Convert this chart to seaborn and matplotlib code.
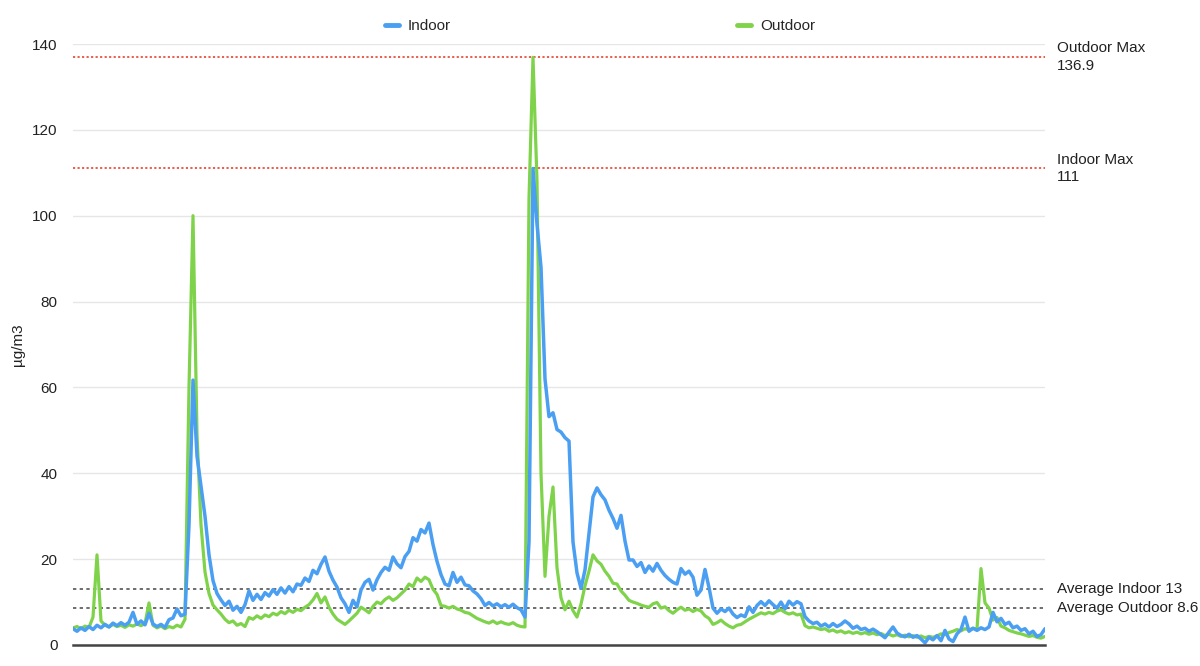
import numpy as np
import pandas as pd
import matplotlib
matplotlib.use("Agg")
import matplotlib.pyplot as plt
from matplotlib.lines import Line2D
import seaborn as sns

# PM readings (ug/m3), one value per sample
indoor = [
    3.8, 3.2, 4.0, 3.4, 4.3, 3.6, 4.6, 4.0, 4.8, 4.2,
    5.1, 4.5, 5.2, 4.6, 5.3, 7.6, 4.8, 5.6, 4.7, 7.4,
    4.9, 4.3, 4.8, 4.1, 5.9, 6.3, 8.4, 6.8, 7.2, 28,
    61.7, 44, 37, 30, 21, 15, 12, 10.5, 9.2, 10.2,
    8.1, 9.0, 7.6, 9.4, 12.6, 10.4, 11.8, 10.6, 12.2, 11.4,
    12.9, 11.8, 13.3, 12.1, 13.6, 12.4, 14.2, 13.9, 15.6, 14.8,
    17.4, 16.6, 18.8, 20.5, 17.2, 15.1, 13.5, 11.0, 9.6, 7.6,
    10.4, 8.9, 12.8, 14.6, 15.3, 12.8, 15.2, 16.9, 18.1, 17.4,
    20.5, 18.9, 18.0, 20.6, 21.8, 25.0, 24.2, 26.9, 26.1, 28.4,
    23.4, 19.5, 16.4, 14.2, 13.8, 16.9, 14.6, 15.8, 14.0, 13.8,
    12.6, 11.9, 10.8, 9.2, 9.9, 9.1, 9.6, 8.9, 9.4, 8.8,
    9.5, 8.7, 8.2, 6.5, 24, 111, 98, 88, 62, 53.2,
    54.1, 50.2, 49.6, 48.3, 47.5, 24, 16.8, 13.2, 17.5, 26,
    34.5, 36.6, 35.0, 33.8, 31.4, 29.5, 27.2, 30.2, 24.2, 19.8,
    19.8, 18.3, 19.2, 16.9, 18.4, 17.2, 19.0, 17.4, 16.2, 15.3,
    14.6, 14.2, 17.8, 16.5, 17.2, 15.8, 11.6, 12.8, 17.6, 13.4,
    8.6, 7.4, 8.4, 7.8, 8.6, 7.2, 6.4, 7.0, 6.6, 8.9,
    7.6, 9.2, 10.1, 9.2, 10.3, 9.4, 8.6, 10.0, 8.4, 10.2,
    9.3, 10.1, 9.6, 6.6, 5.6, 5.0, 5.3, 4.4, 4.9, 4.2,
    5.0, 4.3, 4.8, 5.6, 4.9, 3.9, 4.4, 3.6, 3.9, 3.2,
    3.7, 3.1, 2.4, 1.7, 3.0, 4.2, 2.8, 2.2, 1.9, 2.5,
    1.8, 2.2, 1.4, 0.5, 1.8, 1.2, 2.2, 1.0, 3.4, 1.4,
    0.8, 2.6, 3.6, 6.5, 3.2, 3.9, 3.4, 4.0, 3.6, 4.2,
    7.6, 5.4, 6.2, 4.8, 5.3, 4.0, 4.4, 3.4, 3.8, 2.6,
    3.2, 2.0, 2.4, 3.8,
]

outdoor = [
    4.0, 4.3, 3.8, 4.4, 4.1, 6.5, 21.0, 5.6, 4.6, 4.2,
    4.8, 4.3, 4.6, 4.1, 4.7, 4.4, 4.9, 4.5, 5.0, 9.8,
    4.6, 4.0, 4.4, 3.8, 4.3, 4.0, 4.6, 4.2, 6.0, 60,
    100, 49, 28, 17, 12, 9.3, 8.2, 7.2, 6.0, 5.2,
    5.6, 4.6, 5.0, 4.3, 6.4, 6.0, 6.8, 6.2, 7.0, 6.6,
    7.4, 7.0, 7.8, 7.3, 8.1, 7.6, 8.3, 8.0, 8.8, 9.4,
    10.5, 12.0, 9.8, 11.2, 8.8, 7.2, 6.0, 5.4, 4.8, 5.6,
    6.5, 7.4, 8.8, 8.2, 7.5, 9.0, 10.0, 9.6, 10.6, 11.2,
    10.4, 11.0, 11.9, 12.8, 14.2, 13.6, 15.6, 14.8, 15.8, 15.2,
    13.0, 11.8, 9.2, 9.0, 8.6, 9.0, 8.4, 8.1, 7.6, 7.4,
    6.8, 6.2, 5.8, 5.4, 5.1, 5.6, 5.0, 5.4, 5.0, 4.8,
    5.2, 4.6, 4.3, 4.2, 104, 136.9, 108, 40, 16, 30,
    36.8, 18, 11, 8.2, 10.2, 8.0, 6.5, 9.5, 13.8, 17.2,
    21.0, 19.6, 18.8, 17.2, 16.0, 14.4, 14.2, 12.6, 11.6, 10.4,
    10.0, 9.7, 9.3, 9.0, 8.8, 9.6, 9.9, 8.6, 8.9, 8.0,
    7.4, 8.2, 8.8, 8.1, 8.4, 7.8, 8.3, 7.9, 6.8, 6.2,
    4.8, 5.2, 5.8, 5.0, 4.4, 4.0, 4.6, 4.8, 5.4, 6.0,
    6.5, 7.0, 7.5, 7.2, 7.6, 7.3, 7.9, 8.2, 7.6, 7.2,
    7.5, 7.0, 7.2, 4.5, 4.0, 4.2, 3.9, 3.6, 3.8, 3.2,
    3.5, 3.0, 3.3, 2.8, 3.1, 2.7, 3.0, 2.6, 2.9, 2.5,
    2.8, 2.4, 2.7, 2.2, 2.5, 2.1, 2.4, 2.0, 2.3, 1.9,
    2.2, 1.8, 2.1, 1.7, 2.0, 1.8, 2.1, 2.6, 2.4, 2.9,
    3.2, 3.6, 3.3, 3.8, 3.5, 3.9, 3.7, 17.8, 9.8, 8.6,
    5.8, 6.4, 4.4, 4.0, 3.4, 3.1, 2.8, 2.6, 2.3, 2.0,
    2.2, 1.8, 1.6, 2.0,
]

# reference lines shown on the right
indoor_max = 111
outdoor_max = 136.9
indoor_avg = 13
outdoor_avg = 8.6

y_ticks = [0, 20, 40, 60, 80, 100, 120, 140]

blue = "#4a9ff2"
green = "#7fd34a"
red = "#e8503f"

sample = np.arange(len(indoor))
df = pd.DataFrame({"sample": sample, "Indoor": indoor, "Outdoor": outdoor})

sns.set_style("white")
plt.rcParams["font.family"] = ["Liberation Sans", "DejaVu Sans"]

fig = plt.figure(figsize=(12, 6.66), dpi=100)
ax = fig.add_axes([73 / 1200, 21 / 666, 972 / 1200, 601 / 666])

# outdoor first so the indoor line sits on top like in the original
sns.lineplot(data=df, x="sample", y="Outdoor", color=green, lw=2.3, ax=ax)
sns.lineplot(data=df, x="sample", y="Indoor", color=blue, lw=2.5, ax=ax)

ax.axhline(outdoor_max, color=red, lw=1.3, ls=(0, (1.2, 1.3)), zorder=1)
ax.axhline(indoor_max, color=red, lw=1.3, ls=(0, (1.2, 1.3)), zorder=1)
ax.axhline(indoor_avg, color="#555555", lw=1.2, ls=(0, (2, 2)), zorder=1)
ax.axhline(outdoor_avg, color="#555555", lw=1.2, ls=(0, (2, 2)), zorder=1)

ax.set_xlim(0, len(indoor) - 1)
ax.set_ylim(0, 140)
ax.set_yticks(y_ticks)
ax.set_xticks([])
ax.yaxis.grid(True, color="#e6e6e6", lw=1.0)
ax.set_axisbelow(True)
ax.tick_params(axis="y", length=0, pad=11, labelsize=11, labelcolor="#222222")

for s in ["top", "right", "left"]:
    ax.spines[s].set_visible(False)
ax.spines["bottom"].set_color("#444444")
ax.spines["bottom"].set_linewidth(1.8)
ax.spines["bottom"].set_zorder(5)

ax.set_xlabel("")
ax.set_ylabel("µg/m3", fontsize=11, color="#222222")
ax.yaxis.set_label_coords(-0.0494, 0.5)

tr = ax.get_yaxis_transform()
lx = 1.0123
ax.text(lx, outdoor_max, f"Outdoor Max\n{outdoor_max}", transform=tr,
        ha="left", va="center", fontsize=11, linespacing=1.35, color="#222222")
ax.text(lx, indoor_max, f"Indoor Max\n{indoor_max}", transform=tr,
        ha="left", va="center", fontsize=11, linespacing=1.35, color="#222222")
ax.text(lx, indoor_avg, f"Average Indoor {indoor_avg}", transform=tr,
        ha="left", va="center", fontsize=11, color="#222222")
ax.text(lx, outdoor_avg, f"Average Outdoor {outdoor_avg}", transform=tr,
        ha="left", va="center", fontsize=11, color="#222222")

handles = [Line2D([], [], color=blue, lw=3.5), Line2D([], [], color=green, lw=3.5)]
fig.legend(handles, ["Indoor", "Outdoor"], loc="center", bbox_to_anchor=(0.5, 0.961),
           ncol=2, frameon=False, fontsize=11, handlelength=0.9,
           handletextpad=0.6, columnspacing=18.7)

fig.savefig("out.png", dpi=100)
